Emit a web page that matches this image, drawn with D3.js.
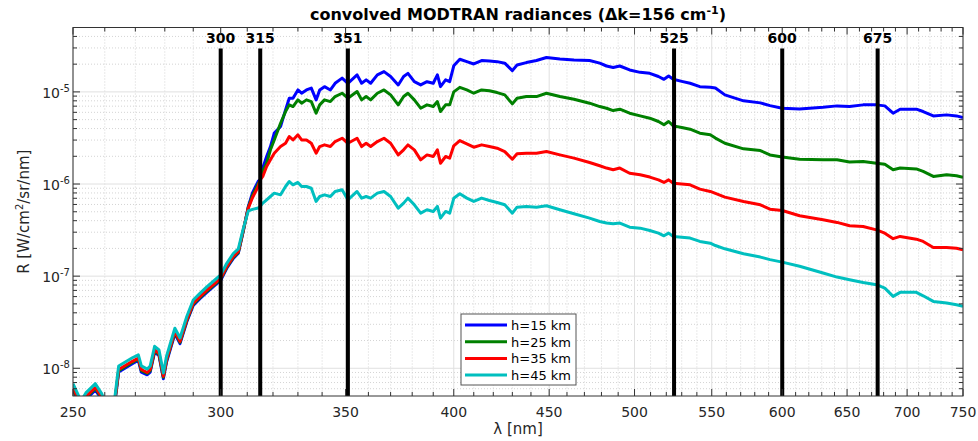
<!DOCTYPE html>
<html>
<head>
<meta charset="utf-8">
<script src="https://cdn.jsdelivr.net/npm/d3@7"></script>
<style>
  body { margin: 0; background: #fff; }
  svg { font-family: "DejaVu Sans", sans-serif; }
</style>
</head>
<body>
<div id="chart"></div>
<script>
// wavelength grid [nm], shared by all four altitudes
const wavelength = [
  250, 252.5, 254, 257, 259, 261, 263, 264.5, 269, 271, 272, 274, 275, 276.5, 278, 279.5,
  280.6, 283.5, 285.3, 287.7, 290, 292.4, 295, 297.3, 300, 302.2, 304.7, 306.6, 308.5, 310.4, 312, 314.2,
  315, 316, 317.5, 319, 320.5, 323, 325, 326.5, 328, 330, 331.5, 333.5, 335.5, 337.5, 339, 341,
  343.5, 345.5, 348.5, 351, 355, 357, 359, 361, 364, 367, 370, 373.5, 376, 378, 381, 384,
  387, 390, 392, 393.5, 396, 398, 400, 403,
  406.5, 410, 414, 418, 422, 426, 430, 432.5, 437.5, 443, 448.5, 456, 464, 473, 479, 483,
  487, 491, 497, 503.5, 509.5, 515, 518.5, 521.5, 524.5,
  530, 535.5, 542, 549, 552.5, 559, 572, 584, 591, 600, 613, 631, 642, 652, 663, 674,
  681, 688, 694, 708, 714, 723, 735, 744, 750
];

// radiances [W/cm2/sr/nm]
const radH15 = [
  5.8e-9, 3.8e-9, 4.6e-9, 5.8e-9, 4.6e-9, 3.3e-9, 3.6e-9, 9.1e-9, 1.12e-8, 1.22e-8, 9.1e-9, 8.5e-9, 9.1e-9, 1.50e-8, 1.37e-8, 7.7e-9,
  1.17e-8, 2.37e-8, 1.85e-8, 3.2e-8, 4.8e-8, 5.7e-8, 6.7e-8, 7.7e-8, 9.0e-8, 1.21e-7, 1.56e-7, 1.77e-7, 3.1e-7, 5.7e-7, 8.0e-7, 1.07e-6,
  1.11e-6, 1.49e-6, 1.99e-6, 2.55e-6, 3.57e-6, 4.21e-6, 6.38e-6, 8.54e-6, 8.54e-6, 1.05e-5, 9.67e-6, 1.05e-5, 1.10e-5, 8.19e-6, 1.05e-5, 1.14e-5,
  1.05e-5, 1.24e-5, 1.41e-5, 1.24e-5, 1.53e-5, 1.24e-5, 1.35e-5, 1.24e-5, 1.53e-5, 1.66e-5, 1.47e-5, 1.19e-5, 1.47e-5, 1.59e-5, 1.29e-5, 1.19e-5,
  1.29e-5, 1.24e-5, 1.53e-5, 1.14e-5, 1.35e-5, 1.29e-5, 1.92e-5, 2.26e-5,
  2.13e-5, 2.01e-5, 2.19e-5, 2.17e-5, 2.13e-5, 2.05e-5, 1.70e-5, 1.96e-5, 2.08e-5, 2.19e-5, 2.36e-5, 2.28e-5, 2.22e-5, 2.19e-5, 2.05e-5, 1.91e-5,
  1.84e-5, 1.91e-5, 1.73e-5, 1.63e-5, 1.59e-5, 1.47e-5, 1.37e-5, 1.49e-5, 1.37e-5,
  1.30e-5, 1.24e-5, 1.14e-5, 1.12e-5, 1.10e-5, 9.28e-6, 8.0e-6, 7.6e-6, 7.1e-6, 6.65e-6, 6.54e-6, 6.82e-6, 7.05e-6, 6.93e-6, 7.23e-6, 7.23e-6,
  7.05e-6, 5.87e-6, 6.49e-6, 6.49e-6, 6.12e-6, 5.49e-6, 5.63e-6, 5.49e-6, 5.27e-6
];
const radH25 = [
  6.0e-9, 3.9e-9, 4.8e-9, 6.0e-9, 4.8e-9, 3.4e-9, 3.7e-9, 9.4e-9, 1.16e-8, 1.26e-8, 9.4e-9, 8.8e-9, 9.4e-9, 1.55e-8, 1.41e-8, 8.0e-9,
  1.21e-8, 2.45e-8, 1.91e-8, 3.29e-8, 4.97e-8, 5.85e-8, 6.9e-8, 7.9e-8, 9.3e-8, 1.24e-7, 1.60e-7, 1.81e-7, 3.12e-7, 5.6e-7, 7.5e-7, 1.0e-6,
  1.11e-6, 1.37e-6, 1.68e-6, 2.35e-6, 3.01e-6, 4.57e-6, 6.12e-6, 7.23e-6, 6.93e-6, 8.19e-6, 7.54e-6, 8.19e-6, 7.85e-6, 5.87e-6, 7.23e-6, 8.19e-6,
  7.85e-6, 8.90e-6, 9.67e-6, 8.54e-6, 1.01e-5, 8.19e-6, 8.90e-6, 8.19e-6, 9.67e-6, 1.05e-5, 9.28e-6, 7.23e-6, 8.90e-6, 9.67e-6, 8.19e-6, 6.65e-6,
  7.23e-6, 6.93e-6, 7.85e-6, 6.12e-6, 7.23e-6, 7.23e-6, 1.0e-5, 1.12e-5,
  1.05e-5, 9.67e-6, 1.05e-5, 1.03e-5, 9.83e-6, 9.28e-6, 7.41e-6, 8.54e-6, 8.90e-6, 8.90e-6, 9.67e-6, 8.90e-6, 8.33e-6, 7.54e-6, 6.93e-6, 6.65e-6,
  6.27e-6, 6.49e-6, 5.87e-6, 5.49e-6, 5.18e-6, 4.77e-6, 4.39e-6, 4.77e-6, 4.28e-6,
  4.1e-6, 3.94e-6, 3.56e-6, 3.42e-6, 3.15e-6, 2.77e-6, 2.41e-6, 2.31e-6, 2.07e-6, 1.96e-6, 1.86e-6, 1.83e-6, 1.83e-6, 1.73e-6, 1.76e-6, 1.68e-6,
  1.64e-6, 1.43e-6, 1.49e-6, 1.46e-6, 1.37e-6, 1.21e-6, 1.26e-6, 1.23e-6, 1.18e-6
];
const radH35 = [
  6.2e-9, 4.0e-9, 4.9e-9, 6.2e-9, 4.9e-9, 3.5e-9, 3.8e-9, 9.7e-9, 1.19e-8, 1.29e-8, 9.7e-9, 9.0e-9, 9.7e-9, 1.59e-8, 1.45e-8, 8.2e-9,
  1.24e-8, 2.51e-8, 1.96e-8, 3.37e-8, 5.1e-8, 6.0e-8, 7.1e-8, 8.1e-8, 9.5e-8, 1.27e-7, 1.64e-7, 1.85e-7, 3.19e-7, 5.48e-7, 7.1e-7, 9.4e-7,
  1.11e-6, 1.21e-6, 1.55e-6, 1.83e-6, 2.16e-6, 2.55e-6, 2.77e-6, 3.28e-6, 3.01e-6, 3.42e-6, 3.01e-6, 3.01e-6, 2.77e-6, 2.16e-6, 2.55e-6, 2.66e-6,
  2.55e-6, 2.89e-6, 3.14e-6, 2.77e-6, 3.14e-6, 2.55e-6, 2.77e-6, 2.55e-6, 2.89e-6, 3.14e-6, 2.77e-6, 2.07e-6, 2.35e-6, 2.66e-6, 2.35e-6, 1.83e-6,
  2.07e-6, 1.99e-6, 2.35e-6, 1.68e-6, 1.99e-6, 1.91e-6, 2.6e-6, 2.96e-6,
  2.73e-6, 2.51e-6, 2.66e-6, 2.55e-6, 2.45e-6, 2.25e-6, 1.86e-6, 2.13e-6, 2.16e-6, 2.16e-6, 2.25e-6, 2.07e-6, 1.91e-6, 1.71e-6, 1.58e-6, 1.49e-6,
  1.43e-6, 1.49e-6, 1.31e-6, 1.26e-6, 1.19e-6, 1.11e-6, 1.04e-6, 1.11e-6, 1.02e-6,
  1.0e-6, 9.8e-7, 8.8e-7, 8.3e-7, 7.9e-7, 7.21e-7, 6.47e-7, 5.95e-7, 5.33e-7, 5.16e-7, 4.52e-7, 4.09e-7, 3.83e-7, 3.52e-7, 3.46e-7, 3.18e-7,
  2.93e-7, 2.55e-7, 2.70e-7, 2.52e-7, 2.38e-7, 2.05e-7, 2.05e-7, 2.01e-7, 1.93e-7
];
const radH45 = [
  6.8e-9, 4.4e-9, 5.4e-9, 6.8e-9, 5.3e-9, 3.8e-9, 4.1e-9, 1.06e-8, 1.30e-8, 1.40e-8, 1.06e-8, 9.8e-9, 1.06e-8, 1.73e-8, 1.58e-8, 8.9e-9,
  1.35e-8, 2.72e-8, 2.13e-8, 3.65e-8, 5.5e-8, 6.5e-8, 7.7e-8, 8.8e-8, 1.03e-7, 1.37e-7, 1.76e-7, 1.98e-7, 3.3e-7, 5.1e-7, 5.3e-7, 5.5e-7,
  5.71e-7, 6.2e-7, 6.74e-7, 7.32e-7, 7.96e-7, 7.63e-7, 9.4e-7, 1.065e-6, 9.8e-7, 1.04e-6, 9.4e-7, 9.4e-7, 9.0e-7, 6.47e-7, 7.32e-7, 7.63e-7,
  7.32e-7, 8.3e-7, 8.65e-7, 6.74e-7, 8.3e-7, 7.03e-7, 7.32e-7, 7.03e-7, 7.96e-7, 8.3e-7, 7.32e-7, 5.47e-7, 6.2e-7, 7.03e-7, 5.95e-7, 4.83e-7,
  5.25e-7, 5.04e-7, 5.71e-7, 4.26e-7, 5.04e-7, 4.83e-7, 7.0e-7, 7.83e-7,
  7.03e-7, 6.47e-7, 7.03e-7, 6.62e-7, 6.3e-7, 5.95e-7, 4.83e-7, 5.61e-7, 5.71e-7, 5.61e-7, 5.80e-7, 5.25e-7, 4.75e-7, 4.26e-7, 3.92e-7, 3.77e-7,
  3.70e-7, 3.77e-7, 3.40e-7, 3.32e-7, 3.13e-7, 2.93e-7, 2.74e-7, 2.93e-7, 2.70e-7,
  2.65e-7, 2.59e-7, 2.38e-7, 2.28e-7, 2.15e-7, 1.98e-7, 1.75e-7, 1.61e-7, 1.51e-7, 1.42e-7, 1.28e-7, 1.08e-7, 9.77e-8, 9.14e-8, 8.55e-8, 8.07e-8,
  7.42e-8, 6.03e-8, 6.67e-8, 6.67e-8, 6.12e-8, 5.32e-8, 5.11e-8, 4.89e-8, 4.70e-8
];

const seriesLabels = ["h=15 km", "h=25 km", "h=35 km", "h=45 km"];
const seriesValues = [radH15, radH25, radH35, radH45];
const seriesColors = ["#0000ff", "#008000", "#ff0000", "#00bfbf"];

// selected wavelengths marked with vertical lines
const markerWavelengths = [300, 315, 351, 525, 600, 675];

const xTickValues = [250, 300, 350, 400, 450, 500, 550, 600, 650, 700, 750];
const yTickExponents = [-8, -7, -6, -5];

// Dimensions
const fullWidth = 978;
const fullHeight = 441;
const margin = { top: 27.5, right: 15, bottom: 45, left: 73 };
const width = fullWidth - margin.left - margin.right;
const height = fullHeight - margin.top - margin.bottom;

const svg = d3.select("#chart").append("svg")
  .attr("width", fullWidth)
  .attr("height", fullHeight);

const g = svg.append("g")
  .attr("transform", `translate(${margin.left},${margin.top})`);

// Scales (both logarithmic)
const x = d3.scaleLog().domain([250, 750]).range([0, width]);
const y = d3.scaleLog().domain([5e-9, 5e-5]).range([height, 0]);

const xMinor = d3.range(260, 750, 10).filter(v => v % 50 !== 0);
const yMinor = [];
for (let e = -9; e <= -5; e++) {
  for (let m = 2; m <= 9; m++) {
    const v = m * Math.pow(10, e);
    if (v > 5e-9 && v < 5e-5) yMinor.push(v);
  }
}
const yMajor = yTickExponents.map(e => Math.pow(10, e));

// Grid
const grid = g.append("g");
grid.selectAll(".xminor").data(xMinor).enter().append("line")
  .attr("x1", d => x(d)).attr("x2", d => x(d))
  .attr("y1", 0).attr("y2", height)
  .attr("stroke", "#d4d4d4").attr("stroke-dasharray", "1,2");
grid.selectAll(".yminor").data(yMinor).enter().append("line")
  .attr("x1", 0).attr("x2", width)
  .attr("y1", d => y(d)).attr("y2", d => y(d))
  .attr("stroke", "#d4d4d4").attr("stroke-dasharray", "1,2");
grid.selectAll(".xmajor").data(xTickValues).enter().append("line")
  .attr("x1", d => x(d)).attr("x2", d => x(d))
  .attr("y1", 0).attr("y2", height)
  .attr("stroke", "#e0e0e0");
grid.selectAll(".ymajor").data(yMajor).enter().append("line")
  .attr("x1", 0).attr("x2", width)
  .attr("y1", d => y(d)).attr("y2", d => y(d))
  .attr("stroke", "#e0e0e0");

// Clip for the curves
svg.append("defs").append("clipPath").attr("id", "plot-clip")
  .append("rect").attr("width", width).attr("height", height);

const line = d3.line()
  .x(d => x(d[0]))
  .y(d => y(d[1]));

g.append("g").attr("clip-path", "url(#plot-clip)")
  .selectAll("path")
  .data(seriesValues)
  .enter()
  .append("path")
  .attr("d", vals => line(wavelength.map((w, i) => [w, vals[i]])))
  .attr("fill", "none")
  .attr("stroke", (d, i) => seriesColors[i])
  .attr("stroke-width", 3)
  .attr("stroke-linejoin", "round");

// Vertical marker lines with labels
g.selectAll(".marker").data(markerWavelengths).enter().append("line")
  .attr("x1", d => x(d)).attr("x2", d => x(d))
  .attr("y1", 21).attr("y2", height)
  .attr("stroke", "#000").attr("stroke-width", 4);

g.selectAll(".markerlabel").data(markerWavelengths).enter().append("text")
  .attr("x", d => x(d))
  .attr("y", 15)
  .attr("text-anchor", "middle")
  .style("font-size", "14px")
  .style("font-weight", "bold")
  .text(d => d);

// Axes box with inward ticks on all sides
const axisColor = "#333";
g.append("rect")
  .attr("width", width).attr("height", height)
  .attr("fill", "none").attr("stroke", axisColor).attr("stroke-width", 1);

const ticks = g.append("g").attr("stroke", axisColor).attr("stroke-width", 1);
[[xTickValues, 7], [xMinor, 4]].forEach(([vals, len]) => {
  vals.forEach(v => {
    ticks.append("line").attr("x1", x(v)).attr("x2", x(v)).attr("y1", height).attr("y2", height - len);
    ticks.append("line").attr("x1", x(v)).attr("x2", x(v)).attr("y1", 0).attr("y2", len);
  });
});
[[yMajor, 7], [yMinor, 4]].forEach(([vals, len]) => {
  vals.forEach(v => {
    ticks.append("line").attr("y1", y(v)).attr("y2", y(v)).attr("x1", 0).attr("x2", len);
    ticks.append("line").attr("y1", y(v)).attr("y2", y(v)).attr("x1", width).attr("x2", width - len);
  });
});

// Tick labels
g.selectAll(".xlabel").data(xTickValues).enter().append("text")
  .attr("x", d => x(d))
  .attr("y", height + 21)
  .attr("text-anchor", "middle")
  .attr("fill", "#262626")
  .style("font-size", "14px")
  .text(d => d);

const yLabels = g.selectAll(".ylabel").data(yTickExponents).enter().append("text")
  .attr("x", -3)
  .attr("y", d => y(Math.pow(10, d)) + 6)
  .attr("text-anchor", "end")
  .attr("fill", "#262626")
  .style("font-size", "14px");
yLabels.append("tspan").text("10");
yLabels.append("tspan")
  .attr("dy", -6)
  .style("font-size", "10px")
  .text(d => "-" + Math.abs(d));

// Title
const title = svg.append("text")
  .attr("x", margin.left + width / 2)
  .attr("y", 20)
  .attr("text-anchor", "middle")
  .style("font-size", "16px")
  .style("font-weight", "bold")
  .text("convolved MODTRAN radiances (\u0394k=156 cm");
title.append("tspan").attr("dy", -6).style("font-size", "11px").text("-1");
title.append("tspan").attr("dy", 6).text(")");

// X-axis label
svg.append("text")
  .attr("x", margin.left + width / 2)
  .attr("y", 434)
  .attr("text-anchor", "middle")
  .attr("fill", "#262626")
  .style("font-size", "15px")
  .text("\u03bb [nm]");

// Y-axis label
const yTitle = svg.append("text")
  .attr("transform", `translate(29, ${margin.top + height / 2}) rotate(-90)`)
  .attr("text-anchor", "middle")
  .attr("fill", "#262626")
  .style("font-size", "15px")
  .text("R [W/cm");
yTitle.append("tspan").attr("dy", -6).style("font-size", "10px").text("2");
yTitle.append("tspan").attr("dy", 6).text("/sr/nm]");

// Legend
const legend = svg.append("g").attr("transform", "translate(461,314)");
legend.append("rect")
  .attr("width", 115).attr("height", 71)
  .attr("fill", "#fff").attr("stroke", "#555");
seriesLabels.forEach((label, i) => {
  const ly = 11 + i * 16.7;
  legend.append("line")
    .attr("x1", 4).attr("x2", 46).attr("y1", ly).attr("y2", ly)
    .attr("stroke", seriesColors[i]).attr("stroke-width", 3);
  legend.append("text")
    .attr("x", 50).attr("y", ly + 5)
    .style("font-size", "13px")
    .text(label);
});
</script>
</body>
</html>
